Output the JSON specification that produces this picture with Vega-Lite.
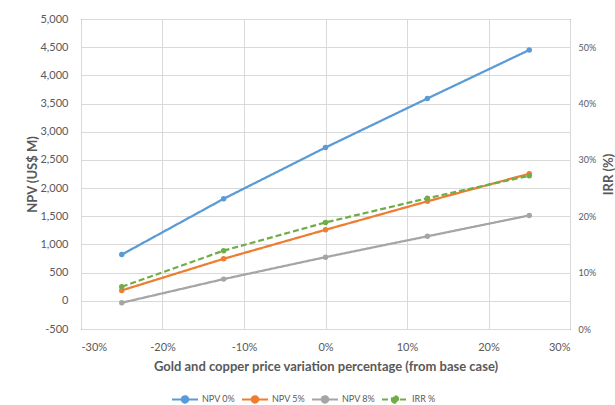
{
  "$schema": "https://vega.github.io/schema/vega-lite/v6.json",
  "autosize": "none",
  "width": 489,
  "height": 310,
  "padding": {"left": 81, "top": 19, "right": 45, "bottom": 76},
  "background": "white",
  "config": {
    "font": "Lato",
    "view": {"stroke": "#595959", "strokeWidth": 1},
    "axis": {"labelColor": "#595959", "titleColor": "#595959", "gridColor": "#d9d9d9", "gridWidth": 1, "ticks": false, "domain": false, "labelFontSize": 11, "titleFontSize": 13, "titleFontWeight": "bold"}
  },
  "data": {"values": [
    {"x": -0.25, "series": "NPV 0%", "value": 820},
    {"x": -0.125, "series": "NPV 0%", "value": 1810},
    {"x": 0, "series": "NPV 0%", "value": 2720},
    {"x": 0.125, "series": "NPV 0%", "value": 3590},
    {"x": 0.25, "series": "NPV 0%", "value": 4450},
    {"x": -0.25, "series": "NPV 5%", "value": 185},
    {"x": -0.125, "series": "NPV 5%", "value": 745},
    {"x": 0, "series": "NPV 5%", "value": 1260},
    {"x": 0.125, "series": "NPV 5%", "value": 1765},
    {"x": 0.25, "series": "NPV 5%", "value": 2255},
    {"x": -0.25, "series": "NPV 8%", "value": -35},
    {"x": -0.125, "series": "NPV 8%", "value": 385},
    {"x": 0, "series": "NPV 8%", "value": 775},
    {"x": 0.125, "series": "NPV 8%", "value": 1145},
    {"x": 0.25, "series": "NPV 8%", "value": 1515},
    {"x": -0.25, "series": "IRR %", "value": 0.075},
    {"x": -0.125, "series": "IRR %", "value": 0.139},
    {"x": 0, "series": "IRR %", "value": 0.189},
    {"x": 0.125, "series": "IRR %", "value": 0.232},
    {"x": 0.25, "series": "IRR %", "value": 0.272}
  ]},
  "encoding": {
    "x": {"field": "x", "type": "quantitative", "scale": {"domain": [-0.3, 0.3], "nice": false, "zero": false},
      "axis": {"values": [-0.3, -0.2, -0.1, 0, 0.1, 0.2, 0.3], "labelExpr": "replace(format(datum.value, '.0%'), '−', '-')", "labelPadding": 12, "titlePadding": 8, "title": "Gold and copper price variation percentage (from base case)"}},
    "color": {"field": "series", "type": "nominal",
      "scale": {"domain": ["NPV 0%", "NPV 5%", "NPV 8%", "IRR %"], "range": ["#5b9bd5", "#ed7d31", "#a5a5a5", "#70ad47"]},
      "legend": {"orient": "none", "legendX": 90, "legendY": 366, "direction": "horizontal", "title": null,
        "symbolType": "M-1,0L1,0M-0.25,0A0.25,0.25,0,1,0,0.25,0A0.25,0.25,0,1,0,-0.25,0Z",
        "symbolSize": 676, "symbolStrokeWidth": 2, "labelFontSize": 9, "labelColor": "#595959", "columnPadding": 2, "labelOffset": 3, "symbolOffset": 0,
        "encode": {"symbols": {"update": {"fill": {"scale": "color", "field": "value"}}}}}},
    "strokeDash": {"field": "series", "type": "nominal",
      "scale": {"domain": ["NPV 0%", "NPV 5%", "NPV 8%", "IRR %"], "range": [[1, 0], [1, 0], [1, 0], [6, 3]]},
      "legend": null}
  },
  "layer": [
    {
      "transform": [{"filter": "datum.series !== 'IRR %'"}],
      "mark": {"type": "line", "strokeWidth": 2.25, "point": {"filled": true, "size": 30}},
      "encoding": {
        "y": {"field": "value", "type": "quantitative", "scale": {"domain": [-500, 5000], "nice": false},
          "axis": {"values": [-500, 0, 500, 1000, 1500, 2000, 2500, 3000, 3500, 4000, 4500, 5000], "labelExpr": "replace(format(datum.value, ',.0f'), '−', '-')", "labelPadding": 13, "titlePadding": 0, "title": "NPV (US$ M)"}}
      }
    },
    {
      "transform": [{"filter": "datum.series === 'IRR %'"}],
      "mark": {"type": "line", "strokeWidth": 2.25, "point": {"filled": true, "size": 30}},
      "encoding": {
        "y": {"field": "value", "type": "quantitative", "scale": {"domain": [0, 0.55], "nice": false},
          "axis": {"orient": "right", "grid": false, "values": [0, 0.1, 0.2, 0.3, 0.4, 0.5], "format": ".0%", "labelFontSize": 9, "labelPadding": 8, "titleAngle": 270, "titlePadding": 20, "title": "IRR (%)"}}
      }
    }
  ],
  "resolve": {"scale": {"y": "independent"}}
}
